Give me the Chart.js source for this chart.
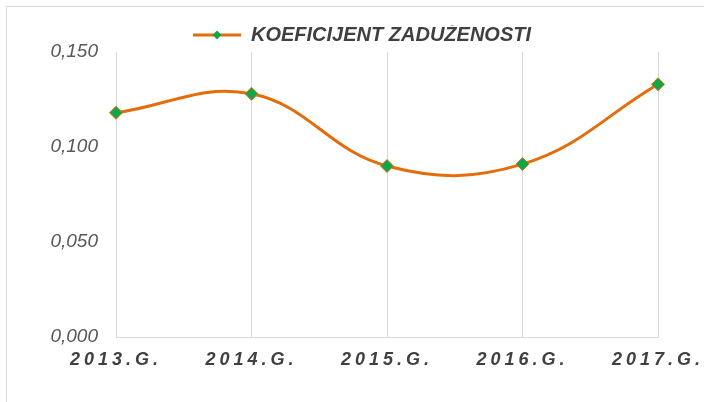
<!DOCTYPE html>
<html>
<head>
<meta charset="utf-8">
<script src="https://cdn.jsdelivr.net/npm/chart.js@4/dist/chart.umd.min.js"></script>
<style>
  html, body { margin: 0; padding: 0; background: #fff; }
  #frame {
    position: absolute; left: 6px; top: 6px; width: 720px; height: 420px;
    border-left: 1px solid #d9d9d9; border-top: 1px solid #d9d9d9;
  }
  #wrap { position: absolute; left: 0; top: 0; width: 704px; height: 402px; }
</style>
</head>
<body>
<div id="frame"></div>
<div id="wrap"><canvas id="debtChart"></canvas></div>
<script>
// Data
const years = ['2013.G.', '2014.G.', '2015.G.', '2016.G.', '2017.G.'];
const debtRatio = [0.118, 0.128, 0.090, 0.091, 0.133];
const yTicks = [0, 0.05, 0.10, 0.15];
const seriesName = 'KOEFICIJENT ZADUŽENOSTI';

const LINE_COLOR = '#E46C0A';
const MARKER_COLOR = '#10A64A';
const FONT = "'Liberation Sans', Arial, sans-serif";

// Legend marker: short line with a diamond in the middle
// (blank space on the left nudges the centred legend to the right)
const MARKER_SHIFT = 40;
function legendMarker() {
    const c = document.createElement('canvas');
    c.width = 48 + MARKER_SHIFT;
    c.height = 14;
    const g = c.getContext('2d');
    const x0 = MARKER_SHIFT;
    g.strokeStyle = LINE_COLOR;
    g.lineWidth = 3;
    g.beginPath();
    g.moveTo(x0, 7);
    g.lineTo(x0 + 48, 7);
    g.stroke();
    g.fillStyle = MARKER_COLOR;
    g.beginPath();
    g.moveTo(x0 + 24, 2.5);
    g.lineTo(x0 + 28.5, 7);
    g.lineTo(x0 + 24, 11.5);
    g.lineTo(x0 + 19.5, 7);
    g.closePath();
    g.fill();
    return c;
}

// Format ticks like 0,150
function formatTick(value) {
    return value.toFixed(3).replace('.', ',');
}

// Small tweaks: tighter legend box and spaced-out category labels
const tweaks = {
    id: 'tweaks',
    beforeLayout(chart) {
        const legend = chart.legend;
        if (legend && !legend._tweaked) {
            const fit = legend.fit;
            legend.fit = function() {
                fit.call(this);
                this.height -= 3;
            };
            legend._tweaked = true;
        }
    },
    beforeDraw(chart) {
        const x = chart.scales.x;
        if (x && !x._tweaked) {
            const drawLabels = x.drawLabels;
            x.drawLabels = function(area) {
                const ctx = this.ctx;
                ctx.save();
                ctx.letterSpacing = '4px';
                drawLabels.call(this, area);
                ctx.restore();
            };
            x._tweaked = true;
        }
    }
};

const ctx = document.getElementById('debtChart').getContext('2d');
const debtChart = new Chart(ctx, {
    type: 'line',
    data: {
        labels: years,
        datasets: [{
            label: seriesName,
            data: debtRatio,
            borderColor: LINE_COLOR,
            borderWidth: 3,
            tension: 0.4,
            pointStyle: 'rectRot',
            pointRadius: 6.5,
            pointBackgroundColor: MARKER_COLOR,
            pointBorderColor: LINE_COLOR,
            pointBorderWidth: 1,
            fill: false
        }]
    },
    options: {
        responsive: true,
        maintainAspectRatio: false,
        animation: false,
        events: [],
        layout: {
            padding: { left: 26, right: 46, top: 25, bottom: 0 }
        },
        scales: {
            x: {
                offset: false,
                grid: {
                    display: true,
                    color: '#d9d9d9',
                    lineWidth: 1,
                    drawTicks: false
                },
                border: { display: true, color: '#d9d9d9', width: 1 },
                ticks: {
                    maxRotation: 0,
                    autoSkip: false,
                    padding: 12,
                    color: '#404040',
                    font: { family: FONT, size: 18, style: 'italic', weight: 'bold' }
                },
                afterFit(scale) {
                    scale.height = 65;
                }
            },
            y: {
                min: 0,
                max: 0.15,
                afterBuildTicks(scale) {
                    scale.ticks = yTicks.map(v => ({ value: v }));
                },
                grid: { display: false, drawTicks: false },
                border: { display: false },
                ticks: {
                    padding: 18,
                    color: '#595959',
                    font: { family: FONT, size: 19, style: 'italic' },
                    callback: function(value) {
                        return formatTick(value);
                    }
                },
                afterFit(scale) {
                    scale.width = 90;
                }
            }
        },
        plugins: {
            legend: {
                position: 'top',
                labels: {
                    usePointStyle: true,
                    pointStyle: legendMarker(),
                    pointStyleWidth: 48 + MARKER_SHIFT,
                    padding: 0,
                    color: '#404040',
                    font: { family: FONT, size: 20, style: 'italic', weight: 'bold' }
                }
            },
            tooltip: { enabled: false }
        }
    },
    plugins: [tweaks]
});
</script>
</body>
</html>
